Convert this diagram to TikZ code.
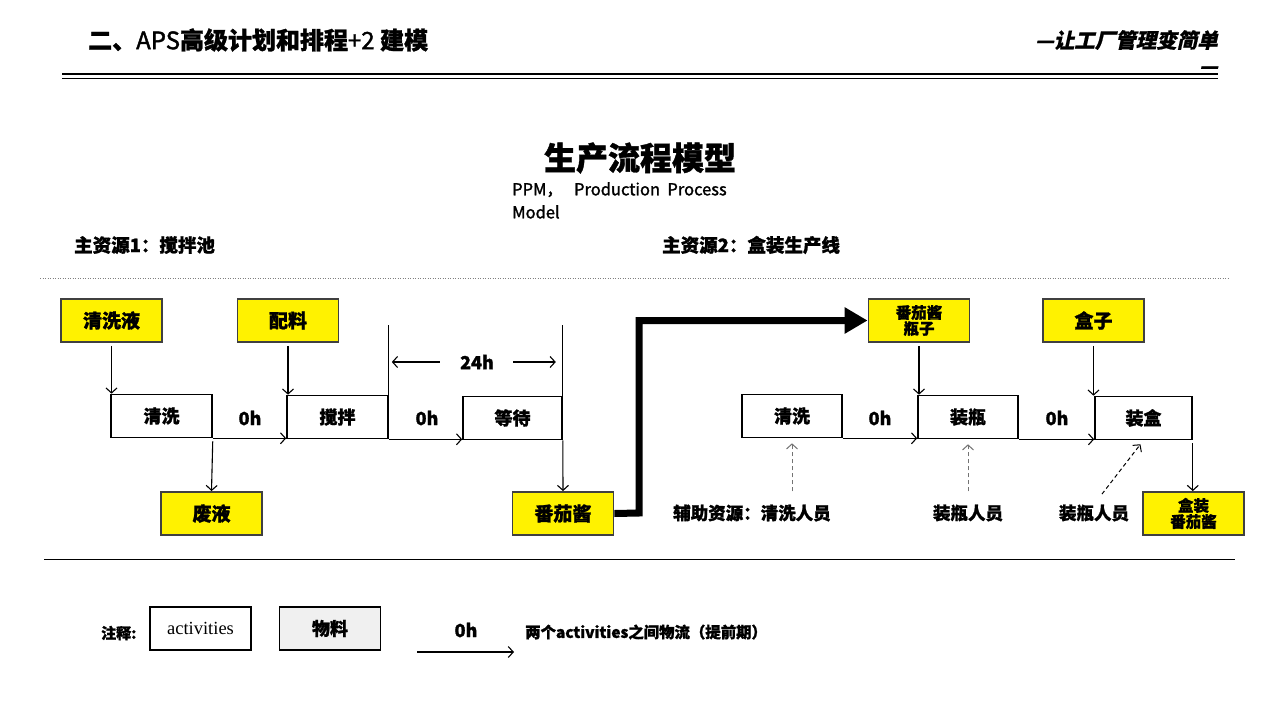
\documentclass[tikz,border=0pt]{standalone}
\usepackage{fontspec}
\setmainfont{Noto Sans CJK SC}[BoldFeatures={FakeBold=1.2}]
\newfontfamily\slcjk[FakeSlant=0.22,BoldFeatures={FakeBold=0.8}]{Noto Sans CJK SC}
\newfontfamily\semi[FakeBold=1.6]{Noto Sans CJK SC}
\newfontfamily\tnr{Liberation Serif}
\usetikzlibrary{arrows.meta,calc}
\newcommand\myfs[2]{\fontsize{#1}{#2}\selectfont}
\tikzset{
  act/.style={draw=black, line width=1.6pt, fill=white, minimum width=101pt, minimum height=43pt, inner sep=0pt, font=\myfs{18}{20}\bfseries},
  mat/.style={draw=black!75, line width=1.8pt, fill=yellow, minimum width=101pt, minimum height=43pt, inner sep=0pt, font=\myfs{19}{20}\bfseries},
  mat2/.style={mat, font=\myfs{15.5}{16}\bfseries, align=center},
  lbl/.style={font=\myfs{18}{20}\bfseries, inner sep=0pt},
  txt/.style={font=\myfs{17.5}{19}\bfseries, inner sep=0pt},
  arr/.style={line width=1.1pt, -{Straight Barb[length=5pt,width=11pt]}},
  darr/.style={line width=1pt, black!55, dashed, dash pattern=on 4pt off 3pt, -{Straight Barb[length=5pt,width=11pt]}},
}
\begin{document}
\begin{tikzpicture}[x=1pt,y=-1pt]
\useasboundingbox[fill=white] (0,0) rectangle (1280,720);

% header
\node[anchor=west, inner sep=0pt, font=\myfs{24}{26}\bfseries] (h1) at (88,40) {二、{\semi\mdseries APS}高级计划和排程{\semi\mdseries +2} 建模};
\node[anchor=east, inner sep=0pt, font=\myfs{20.5}{24}\slcjk\bfseries] (h2) at (1218,40) {—让工厂管理变简单};
\node[anchor=east, inner sep=0pt, font=\myfs{20.5}{24}\slcjk\bfseries] (h3) at (1218,70) {—};
\draw[line width=2pt] (62,74) -- (1218,74);
\draw[line width=1.2pt] (62,78.5) -- (1218,78.5);

% title
\node[inner sep=0pt, font=\myfs{32}{36}\bfseries] (title) at (640,158) {生产流程模型};
\node[anchor=north west, inner sep=0pt, align=left, font=\myfs{16.5}{23}\semi\mdseries] (ppm) at (512,182) {PPM，\ \ \ Production\ \ Process\\Model};

\node[txt, anchor=west, font=\myfs{18.5}{20}\bfseries] (r1) at (74,245) {主资源1：搅拌池};
\node[txt, anchor=west, font=\myfs{18.5}{20}\bfseries] (r2) at (662,245) {主资源2：盒装生产线};

\draw[black!50, line width=0.8pt, dash pattern=on 1pt off 1.5pt] (40,278) -- (1230,278);
\draw[black, line width=1pt] (44,559) -- (1235,559);

% left part
\node[mat] (qxy) at (111.5,320.5) {清洗液};
\node[mat] (pl) at (288,320.5) {配料};
\node[act] (qx1) at (161.5,416) {清洗};
\node[act] (jb) at (337.5,417) {搅拌};
\node[act, minimum width=99pt] (dd) at (512.5,418) {等待};
\node[mat] (fy) at (211.5,513.5) {废液};
\node[mat] (fqj) at (563,513.5) {番茄酱};

\node[lbl] (l1) at (250,418) {0h};
\node[lbl] (l2) at (427,418) {0h};
\node[lbl] (l24) at (477,362) {24h};

\draw[arr, shorten <=3pt] (qxy.south) -- (qxy.south |- qx1.north);
\draw[arr, shorten <=3pt] (pl.south) -- (pl.south |- jb.north);
\draw[arr, shorten <=3pt] (qx1.south east) -- (fy.north);
\draw[arr] (qx1.south east) -- (qx1.south east -| jb.west);
\draw[arr] (jb.south east) -- (jb.south east -| dd.west);
\draw[line width=1.1pt] (jb.north east) -- ++(0,-70) coordinate (t1);
\draw[line width=1.1pt] (dd.north east) -- ++(0,-71) coordinate (t2);
\draw[arr] (dd.south east) -- (fqj.north);
\draw[arr, shorten <=20pt, shorten >=3pt] (l24.west) -- (l24.west -| t1);
\draw[arr, shorten <=19pt, shorten >=7pt] (l24.east) -- (l24.east -| t2);

% thick arrow
\coordinate (bend) at (639,513);
\node[mat2] (pz) at (919,320.5) {番茄酱\\瓶子};
\draw[line width=7pt, line join=miter, -{Triangle[length=23pt,width=25pt]}] (fqj.east) -- (bend) |- (pz.west);

% right part
\node[act, minimum width=100pt] (qx2) at (792,416) {清洗};
\node[act, minimum width=100pt] (zp) at (968,417) {装瓶};
\node[act, minimum width=97pt] (zh) at (1143.5,418) {装盒};
\node[mat] (hz) at (1093.5,320.5) {盒子};
\node[mat2] (hzf) at (1193.5,513.5) {盒装\\番茄酱};

\node[lbl] (l3) at (880,418) {0h};
\node[lbl] (l4) at (1057,418) {0h};

\draw[arr, shorten <=3pt] (pz.south) -- (pz.south |- zp.north);
\draw[arr, shorten <=3pt] (hz.south) -- (hz.south |- zh.north);
\draw[arr] (qx2.south east) -- (qx2.south east -| zp.west);
\draw[arr] (zp.south east) -- (zp.south east -| zh.west);
\draw[arr, shorten <=3pt] (zh.south east) -- (zh.south east |- hzf.north);

\node[txt, anchor=west] (fz) at (673,513) {辅助资源：清洗人员};
\node[txt] (zr1) at (968,513) {装瓶人员};
\node[txt] (zr2) at (1094,513) {装瓶人员};

\draw[darr, shorten <=13pt, shorten >=5pt] (qx2.south |- fz.north) -- (qx2.south);
\draw[darr, shorten <=13pt, shorten >=5pt] (zr1.north) -- (zp.south);
\draw[darr, black, shorten <=13pt, shorten >=5pt] (zr2.north) -- (zh.south);

% legend
\node[txt, anchor=west, font=\myfs{15}{16}\bfseries] (note) at (101,633) {注释:};
\node[act, font=\myfs{18.5}{18}\tnr\mdseries] (lga) at (200.5,628.5) {activities};
\node[act, fill=black!6] (lgm) at (330,628.5) {物料};
\node[lbl] (lg0) at (466,630) {0h};
\coordinate (la) at (417,652);
\coordinate (lb) at (514,652);
\draw[arr] (la) -- (lb);
\node[txt, anchor=west, font=\myfs{15.4}{16}\bfseries] (lgt) at (525,632) {两个activities之间物流（提前期）};
\end{tikzpicture}
\end{document}
